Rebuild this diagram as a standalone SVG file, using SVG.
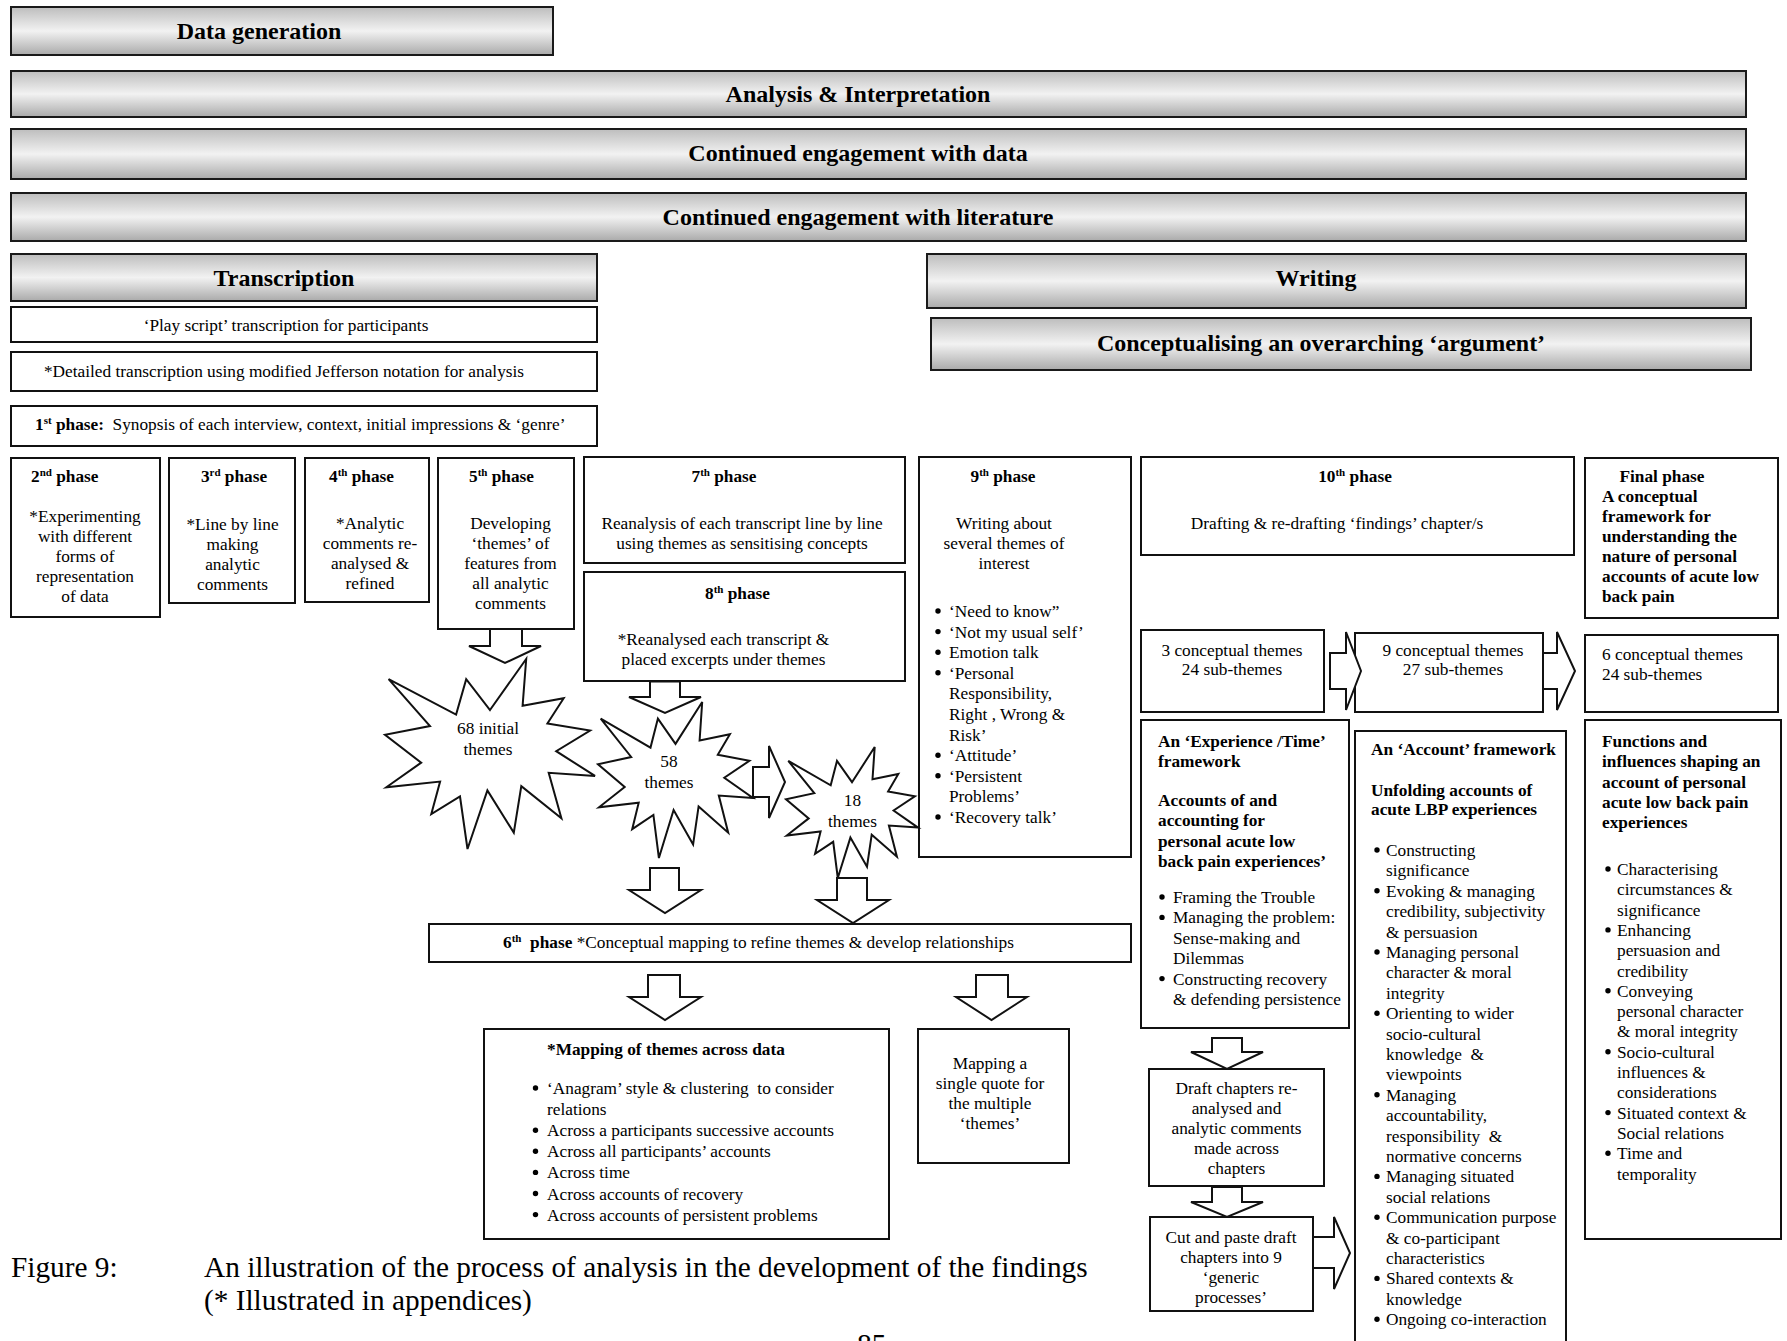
<svg xmlns="http://www.w3.org/2000/svg" width="1787" height="1341" viewBox="0 0 1787 1341">
  <style>
    text { font-family: "Liberation Serif", "Times New Roman", serif; fill: #000; font-size: 17.3px; }
    .ban { fill: url(#bar); stroke: #1a1a1a; stroke-width: 2; }
    .box { fill: #fff; stroke: #111; stroke-width: 2; }
    .star { fill: #fff; stroke: #111; stroke-width: 2; stroke-linejoin: miter; }
    .arr { fill: #fff; stroke: #111; stroke-width: 2; stroke-linejoin: miter; }
    .h { font-size: 24px; font-weight: bold; text-anchor: middle; }
    .b { font-weight: bold; }
    .c { text-anchor: middle; }
    .sup { font-size: 11px; }
    .cap { font-size: 29.3px; }
    .bu { fill: #000; }
  </style>
  <defs>
    <linearGradient id="bar" x1="0" y1="0" x2="0" y2="1">
      <stop offset="0" stop-color="#bdbdbd"/>
      <stop offset="0.5" stop-color="#f2f2f2"/>
      <stop offset="1" stop-color="#aaaaaa"/>
    </linearGradient>
    <circle id="dot" r="2.7"/>
  </defs>
  <rect width="1787" height="1341" fill="#fff"/>

  <!-- banners -->
  <g id="data-generation">
    <rect class="ban" x="11" y="7" width="542" height="48"/>
    <text class="h" x="259" y="39">Data generation</text>
  </g>
  <g id="analysis">
    <rect class="ban" x="11" y="71" width="1735" height="46"/>
    <text class="h" x="858" y="102">Analysis &amp; Interpretation</text>
  </g>
  <g id="engagement-data">
    <rect class="ban" x="11" y="129" width="1735" height="50"/>
    <text class="h" x="858" y="161">Continued engagement with data</text>
  </g>
  <g id="engagement-literature">
    <rect class="ban" x="11" y="193" width="1735" height="48"/>
    <text class="h" x="858" y="225">Continued engagement with literature</text>
  </g>
  <g id="transcription">
    <rect class="ban" x="11" y="254" width="586" height="47"/>
    <text class="h" x="284" y="286">Transcription</text>
  </g>
  <g id="writing">
    <rect class="ban" x="927" y="254" width="819" height="54"/>
    <text class="h" x="1316" y="286">Writing</text>
  </g>
  <g id="argument">
    <rect class="ban" x="931" y="318" width="820" height="52"/>
    <text class="h" x="1321" y="351">Conceptualising an overarching ‘argument’</text>
  </g>

  <!-- transcription steps -->
  <g id="play-script">
    <rect class="box" x="11" y="307" width="586" height="35"/>
    <text class="c" x="286" y="331">‘Play script’ transcription for participants</text>
  </g>
  <g id="detailed-transcription">
    <rect class="box" x="11" y="352" width="586" height="39"/>
    <text class="c" x="284" y="377">*Detailed transcription using modified Jefferson notation for analysis</text>
  </g>
  <g id="phase-1">
    <rect class="box" x="11" y="406" width="586" height="40"/>
    <text x="35" y="430"><tspan class="b">1</tspan><tspan class="b sup" dy="-6">st</tspan><tspan class="b" dy="6"> phase:</tspan>&#160; Synopsis of each interview, context, initial impressions &amp; ‘genre’</text>
  </g>

  <!-- phases 2 to 5 -->
  <g id="phase-2">
    <rect class="box" x="11" y="458" width="149" height="159"/>
    <text class="b" x="31" y="482">2<tspan class="sup" dy="-6">nd</tspan><tspan dy="6"> phase</tspan></text>
    <text class="c" x="85" y="522">*Experimenting</text>
    <text class="c" x="85" y="542">with different</text>
    <text class="c" x="85" y="562">forms of</text>
    <text class="c" x="85" y="582">representation</text>
    <text class="c" x="85" y="602">of data</text>
  </g>
  <g id="phase-3">
    <rect class="box" x="169" y="458" width="126" height="145"/>
    <text class="b c" x="234" y="482">3<tspan class="sup" dy="-6">rd</tspan><tspan dy="6"> phase</tspan></text>
    <text class="c" x="232.5" y="530">*Line by line</text>
    <text class="c" x="232.5" y="550">making</text>
    <text class="c" x="232.5" y="570">analytic</text>
    <text class="c" x="232.5" y="590">comments</text>
  </g>
  <g id="phase-4">
    <rect class="box" x="305" y="458" width="124" height="144"/>
    <text class="b" x="329" y="482">4<tspan class="sup" dy="-6">th</tspan><tspan dy="6"> phase</tspan></text>
    <text class="c" x="370" y="529">*Analytic</text>
    <text class="c" x="370" y="549">comments re-</text>
    <text class="c" x="370" y="569">analysed &amp;</text>
    <text class="c" x="370" y="589">refined</text>
  </g>
  <g id="phase-5">
    <rect class="box" x="438" y="458" width="136" height="171"/>
    <text class="b" x="469" y="482">5<tspan class="sup" dy="-6">th</tspan><tspan dy="6"> phase</tspan></text>
    <text class="c" x="510.5" y="529">Developing</text>
    <text class="c" x="510.5" y="549">‘themes’ of</text>
    <text class="c" x="510.5" y="569">features from</text>
    <text class="c" x="510.5" y="589">all analytic</text>
    <text class="c" x="510.5" y="609">comments</text>
  </g>

  <!-- phases 7 and 8 -->
  <g id="phase-7">
    <rect class="box" x="584" y="457" width="321" height="106"/>
    <text class="b c" x="724" y="482">7<tspan class="sup" dy="-6">th</tspan><tspan dy="6"> phase</tspan></text>
    <text class="c" x="742" y="529">Reanalysis of each transcript line by line</text>
    <text class="c" x="742" y="549">using themes as sensitising concepts</text>
  </g>
  <g id="phase-8">
    <rect class="box" x="584" y="572" width="321" height="109"/>
    <text class="b c" x="737.5" y="599">8<tspan class="sup" dy="-6">th</tspan><tspan dy="6"> phase</tspan></text>
    <text class="c" x="723.5" y="645">*Reanalysed each transcript &amp;</text>
    <text class="c" x="723.5" y="665">placed excerpts under themes</text>
  </g>

  <!-- phase 9 -->
  <g id="phase-9">
    <rect class="box" x="919" y="457" width="212" height="400"/>
    <text class="b c" x="1003" y="482">9<tspan class="sup" dy="-6">th</tspan><tspan dy="6"> phase</tspan></text>
    <text class="c" x="1004" y="529">Writing about</text>
    <text class="c" x="1004" y="549">several themes of</text>
    <text class="c" x="1004" y="569">interest</text>
    <use href="#dot" class="bu" x="938" y="611"/><text x="949" y="617">‘Need to know”</text>
    <use href="#dot" class="bu" x="938" y="631.6"/><text x="949" y="637.6">‘Not my usual self’</text>
    <use href="#dot" class="bu" x="938" y="652.2"/><text x="949" y="658.2">Emotion talk</text>
    <use href="#dot" class="bu" x="938" y="672.8"/><text x="949" y="678.8">‘Personal</text>
    <text x="949" y="699.4">Responsibility,</text>
    <text x="949" y="720">Right , Wrong &amp;</text>
    <text x="949" y="740.6">Risk’</text>
    <use href="#dot" class="bu" x="938" y="755.2"/><text x="949" y="761.2">‘Attitude’</text>
    <use href="#dot" class="bu" x="938" y="775.8"/><text x="949" y="781.8">‘Persistent</text>
    <text x="949" y="802.4">Problems’</text>
    <use href="#dot" class="bu" x="938" y="817"/><text x="949" y="823">‘Recovery talk’</text>
  </g>

  <!-- phase 10 and final phase -->
  <g id="phase-10">
    <rect class="box" x="1141" y="457" width="433" height="98"/>
    <text class="b c" x="1355" y="482">10<tspan class="sup" dy="-6">th</tspan><tspan dy="6"> phase</tspan></text>
    <text class="c" x="1337" y="529">Drafting &amp; re-drafting ‘findings’ chapter/s</text>
  </g>
  <g id="final-phase">
    <rect class="box" x="1585" y="458" width="193" height="160"/>
    <text class="b" x="1619.5" y="482">Final phase</text>
    <text class="b" x="1602" y="502">A conceptual</text>
    <text class="b" x="1602" y="522">framework for</text>
    <text class="b" x="1602" y="542">understanding the</text>
    <text class="b" x="1602" y="562">nature of personal</text>
    <text class="b" x="1602" y="582">accounts of acute low</text>
    <text class="b" x="1602" y="602">back pain</text>
  </g>

  <!-- theme counts -->
  <g id="themes-3">
    <rect class="box" x="1141" y="630" width="183" height="82"/>
    <text class="c" x="1232" y="656">3 conceptual themes</text>
    <text class="c" x="1232" y="675">24 sub-themes</text>
  </g>
  <g id="themes-9">
    <rect class="box" x="1355" y="633" width="188" height="79"/>
    <text class="c" x="1453" y="656">9 conceptual themes</text>
    <text class="c" x="1453" y="675">27 sub-themes</text>
  </g>
  <g id="themes-6">
    <rect class="box" x="1585" y="635" width="193" height="77"/>
    <text x="1602" y="660">6 conceptual themes</text>
    <text x="1602" y="680">24 sub-themes</text>
  </g>

  <!-- frameworks -->
  <g id="experience-framework">
    <rect class="box" x="1141" y="720" width="208" height="308"/>
    <text class="b" x="1158" y="747">An ‘Experience /Time’</text>
    <text class="b" x="1158" y="767">framework</text>
    <text class="b" x="1158" y="806">Accounts of and</text>
    <text class="b" x="1158" y="826">accounting for</text>
    <text class="b" x="1158" y="847">personal acute low</text>
    <text class="b" x="1158" y="867">back pain experiences’</text>
    <use href="#dot" class="bu" x="1162" y="897"/><text x="1173" y="903">Framing the Trouble</text>
    <use href="#dot" class="bu" x="1162" y="917.4"/><text x="1173" y="923.4">Managing the problem:</text>
    <text x="1173" y="943.8">Sense-making and</text>
    <text x="1173" y="964.2">Dilemmas</text>
    <use href="#dot" class="bu" x="1162" y="978.6"/><text x="1173" y="984.6">Constructing recovery</text>
    <text x="1173" y="1005">&amp; defending persistence</text>
  </g>
  <g id="account-framework">
    <rect class="box" x="1355" y="731" width="211" height="620"/>
    <text class="b" x="1371" y="755">An ‘Account’ framework</text>
    <text class="b" x="1371" y="796">Unfolding accounts of</text>
    <text class="b" x="1371" y="815">acute LBP experiences</text>
    <use href="#dot" class="bu" x="1377" y="850"/><text x="1386" y="856">Constructing</text>
    <text x="1386" y="876.4">significance</text>
    <use href="#dot" class="bu" x="1377" y="890.8"/><text x="1386" y="896.8">Evoking &amp; managing</text>
    <text x="1386" y="917.2">credibility, subjectivity</text>
    <text x="1386" y="937.6">&amp; persuasion</text>
    <use href="#dot" class="bu" x="1377" y="952"/><text x="1386" y="958">Managing personal</text>
    <text x="1386" y="978.4">character &amp; moral</text>
    <text x="1386" y="998.8">integrity</text>
    <use href="#dot" class="bu" x="1377" y="1013.2"/><text x="1386" y="1019.2">Orienting to wider</text>
    <text x="1386" y="1039.6">socio-cultural</text>
    <text x="1386" y="1060">knowledge&#160; &amp;</text>
    <text x="1386" y="1080.4">viewpoints</text>
    <use href="#dot" class="bu" x="1377" y="1094.8"/><text x="1386" y="1100.8">Managing</text>
    <text x="1386" y="1121.2">accountability,</text>
    <text x="1386" y="1141.6">responsibility&#160; &amp;</text>
    <text x="1386" y="1162">normative concerns</text>
    <use href="#dot" class="bu" x="1377" y="1176.4"/><text x="1386" y="1182.4">Managing situated</text>
    <text x="1386" y="1202.8">social relations</text>
    <use href="#dot" class="bu" x="1377" y="1217.2"/><text x="1386" y="1223.2">Communication purpose</text>
    <text x="1386" y="1243.6">&amp; co-participant</text>
    <text x="1386" y="1264">characteristics</text>
    <use href="#dot" class="bu" x="1377" y="1278.4"/><text x="1386" y="1284.4">Shared contexts &amp;</text>
    <text x="1386" y="1304.8">knowledge</text>
    <use href="#dot" class="bu" x="1377" y="1319.2"/><text x="1386" y="1325.2">Ongoing co-interaction</text>
  </g>
  <g id="functions-framework">
    <rect class="box" x="1585" y="720" width="196" height="519"/>
    <text class="b" x="1602" y="747">Functions and</text>
    <text class="b" x="1602" y="767">influences shaping an</text>
    <text class="b" x="1602" y="787.5">account of personal</text>
    <text class="b" x="1602" y="807.7">acute low back pain</text>
    <text class="b" x="1602" y="828">experiences</text>
    <use href="#dot" class="bu" x="1608" y="869"/><text x="1617" y="875">Characterising</text>
    <text x="1617" y="895.3">circumstances &amp;</text>
    <text x="1617" y="915.6">significance</text>
    <use href="#dot" class="bu" x="1608" y="929.9"/><text x="1617" y="935.9">Enhancing</text>
    <text x="1617" y="956.2">persuasion and</text>
    <text x="1617" y="976.5">credibility</text>
    <use href="#dot" class="bu" x="1608" y="990.8"/><text x="1617" y="996.8">Conveying</text>
    <text x="1617" y="1017.1">personal character</text>
    <text x="1617" y="1037.4">&amp; moral integrity</text>
    <use href="#dot" class="bu" x="1608" y="1051.7"/><text x="1617" y="1057.7">Socio-cultural</text>
    <text x="1617" y="1078">influences &amp;</text>
    <text x="1617" y="1098.3">considerations</text>
    <use href="#dot" class="bu" x="1608" y="1112.6"/><text x="1617" y="1118.6">Situated context &amp;</text>
    <text x="1617" y="1138.9">Social relations</text>
    <use href="#dot" class="bu" x="1608" y="1153.2"/><text x="1617" y="1159.2">Time and</text>
    <text x="1617" y="1179.5">temporality</text>
  </g>
  <g id="draft-chapters">
    <rect class="box" x="1149" y="1069" width="175" height="117"/>
    <text class="c" x="1236.5" y="1094">Draft chapters re-</text>
    <text class="c" x="1236.5" y="1114">analysed and</text>
    <text class="c" x="1236.5" y="1134">analytic comments</text>
    <text class="c" x="1236.5" y="1154">made across</text>
    <text class="c" x="1236.5" y="1174">chapters</text>
  </g>
  <g id="generic-processes">
    <rect class="box" x="1150" y="1217" width="163" height="94"/>
    <text class="c" x="1231" y="1243">Cut and paste draft</text>
    <text class="c" x="1231" y="1263">chapters into 9</text>
    <text class="c" x="1231" y="1283">‘generic</text>
    <text class="c" x="1231" y="1303">processes’</text>
  </g>

  <!-- theme counts during analysis -->
  <g id="themes-68">
    <polygon class="star" points="490,710 526.2,659 522.6,705.8 563.7,698.2 547.4,723.4 590.1,730.6 556.2,751.2 595,775.9 548.7,772.8 561.4,818.2 521.3,786.2 513.8,832.6 487.4,790.4 467.5,849 460,796.5 431.3,814 440.1,781.6 386.3,787.3 421.2,762.6 385,734.8 430,726 388.6,679.2 456.1,714.6 466.2,679.2"/>
    <text class="c" x="488" y="734">68 initial</text>
    <text class="c" x="488" y="755">themes</text>
  </g>
  <g id="themes-58">
    <polygon class="star" points="675.5,743.9 702.2,702 699.6,740.5 729.9,734.2 717.8,754.8 749.4,760.8 724.3,777.7 753,798 718.8,795.5 728.2,832.7 698.6,806.4 693.1,844.5 673.6,809.9 658.9,858 653.4,814.9 632.2,829.2 638.7,802.7 599,807.3 624.7,787 598,764.2 631.2,757 600.7,718.6 650.5,747.6 657.9,718.6"/>
    <text class="c" x="669" y="767">58</text>
    <text class="c" x="669" y="788">themes</text>
  </g>
  <g id="themes-18">
    <polygon class="star" points="852,782.2 874.7,747 872.5,779.3 898.3,774 888.1,791.4 914.9,796.3 893.6,810.5 918,827.6 888.9,825.5 896.9,856.7 871.7,834.7 867,866.7 850.4,837.6 837.8,878 833.2,841.8 815.1,853.8 820.6,831.5 786.8,835.5 808.7,818.4 786,799.2 814.3,793.2 788.3,760.9 830.7,785.3 837,760.9"/>
    <text class="c" x="852.5" y="806">18</text>
    <text class="c" x="852.5" y="827">themes</text>
  </g>

  <!-- phase 6 and mapping -->
  <g id="phase-6">
    <rect class="box" x="429" y="924" width="702" height="38"/>
    <text x="503" y="948"><tspan class="b">6</tspan><tspan class="b sup" dy="-6">th</tspan><tspan class="b" dy="6">&#160; phase</tspan> *Conceptual mapping to refine themes &amp; develop relationships</text>
  </g>
  <g id="mapping-themes">
    <rect class="box" x="484" y="1029" width="405" height="210"/>
    <text class="b" x="547" y="1055">*Mapping of themes across data</text>
    <use href="#dot" class="bu" x="535.5" y="1088"/><text x="547" y="1094">‘Anagram’ style &amp; clustering&#160; to consider</text>
    <text x="547" y="1115.1">relations</text>
    <use href="#dot" class="bu" x="535.5" y="1130.2"/><text x="547" y="1136.2">Across a participants successive accounts</text>
    <use href="#dot" class="bu" x="535.5" y="1151.3"/><text x="547" y="1157.3">Across all participants’ accounts</text>
    <use href="#dot" class="bu" x="535.5" y="1172.4"/><text x="547" y="1178.4">Across time</text>
    <use href="#dot" class="bu" x="535.5" y="1193.5"/><text x="547" y="1199.5">Across accounts of recovery</text>
    <use href="#dot" class="bu" x="535.5" y="1214.6"/><text x="547" y="1220.6">Across accounts of persistent problems</text>
  </g>
  <g id="single-quote">
    <rect class="box" x="918" y="1029" width="151" height="134"/>
    <text class="c" x="990" y="1069">Mapping a</text>
    <text class="c" x="990" y="1089">single quote for</text>
    <text class="c" x="990" y="1109">the multiple</text>
    <text class="c" x="990" y="1129">‘themes’</text>
  </g>

  <!-- block arrows -->
  <g id="connectors">
    <polygon class="arr" points="490,629 522,629 522,646 541,646 505,663 469,646 490,646"/>
    <polygon class="arr" points="650,681.5 680,681.5 680,697 701,697 665,713 629,697 650,697"/>
    <polygon class="arr" points="650,868 679,868 679,890 701,890 665,913 629,890 650,890"/>
    <polygon class="arr" points="837,878 867,878 867,900 889,900 853,923 817,900 837,900"/>
    <polygon class="arr" points="648,975 680,975 680,997 701,997 665,1020 629,997 648,997"/>
    <polygon class="arr" points="976,975 1008,975 1008,997 1027,997 991.5,1020 956,997 976,997"/>
    <polygon class="arr" points="1212,1038 1242,1038 1242,1052 1263,1052 1227,1069 1191,1052 1212,1052"/>
    <polygon class="arr" points="1212,1187 1242,1187 1242,1202 1263,1202 1227,1217 1191,1202 1212,1202"/>
    <polygon class="arr" points="753,767 769,767 769,746 785,782 769,818 769,797 753,797"/>
    <polygon class="arr" points="1330,653 1346,653 1346,632 1361,671 1346,710 1346,689 1330,689"/>
    <polygon class="arr" points="1543,653 1557,653 1557,632 1575,671 1557,710 1557,689 1543,689"/>
    <polygon class="arr" points="1313,1237 1334,1237 1334,1217 1350,1253 1334,1289 1334,1268 1313,1268"/>
  </g>

  <!-- caption and page number -->
  <g id="caption">
    <text class="cap" x="11" y="1277">Figure 9:</text>
    <text class="cap" x="204" y="1277">An illustration of the process of analysis in the development of the findings</text>
    <text class="cap" x="204" y="1310">(* Illustrated in appendices)</text>
    <text class="cap" x="857" y="1354">85</text>
  </g>
</svg>
